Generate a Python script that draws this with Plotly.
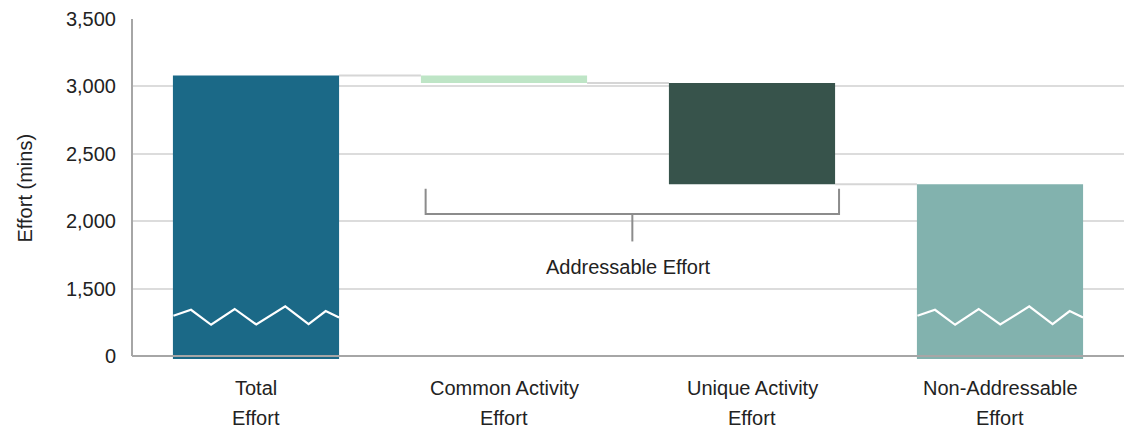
import plotly.graph_objects as go

# ---- data -------------------------------------------------------------
categories = ["Total Effort", "Common Activity Effort",
              "Unique Activity Effort", "Non-Addressable Effort"]
label_line1 = ["Total", "Common Activity", "Unique Activity", "Non-Addressable"]
label_line2 = ["Effort", "Effort", "Effort", "Effort"]

total_effort = 3080
common_activity = 55
unique_activity = 750
non_addressable = total_effort - common_activity - unique_activity  # 2275

tick_values = [0, 1500, 2000, 2500, 3000, 3500]
tick_labels = ["0", "1,500", "2,000", "2,500", "3,000", "3,500"]

# ---- broken-axis mapping ---------------------------------------------
# values >= 1500 are drawn at their true position; 0..1500 is squeezed
# into the bottom 500 units so the interesting range gets the room.
BREAK = 1500
AXIS_ZERO = 1000
AXIS_MIN = 978     # bars run a touch past the baseline
AXIS_MAX = 3500


def to_axis(v):
    if v >= BREAK:
        return v
    return AXIS_ZERO + v * (BREAK - AXIS_ZERO) / BREAK


COLORS = ["#1B6987", "#BEE5C6", "#37534B", "#82B2AE"]
BAR_WIDTH = 0.67
HALF = BAR_WIDTH / 2
FONT = "Liberation Sans, Arial, sans-serif"
TEXT = "#222222"
GRID = "#DCDCDC"
AXIS = "#A6A6A6"
BRACKET = "#8C8C8C"

x = [0, 1, 2, 3]
after_common = total_effort - common_activity
tops = [to_axis(total_effort), to_axis(total_effort),
        to_axis(after_common), to_axis(non_addressable)]
bottoms = [AXIS_MIN, to_axis(after_common),
           to_axis(non_addressable), AXIS_MIN]

fig = go.Figure()

fig.add_trace(go.Bar(
    x=x,
    y=[t - b for t, b in zip(tops, bottoms)],
    base=bottoms,
    width=BAR_WIDTH,
    marker=dict(color=COLORS, line=dict(width=0)),
    hovertext=categories,
    showlegend=False,
))

# waterfall connectors between consecutive bars
for i in range(3):
    level = tops[i + 1] if i == 0 else bottoms[i]
    fig.add_shape(type="line", x0=x[i] + HALF, x1=x[i + 1] - HALF,
                  y0=level, y1=level, line=dict(color="#D6D6D6", width=2),
                  layer="below")

# zig-zag break marks across the two full-height bars
zig_dx = [-0.333, -0.262, -0.181, -0.086, 0.001, 0.118, 0.212, 0.281, 0.335]
zig_y = [1299, 1343, 1232, 1349, 1234, 1368, 1237, 1334, 1286]
for xi in (0, 3):
    fig.add_trace(go.Scatter(
        x=[xi + d for d in zig_dx], y=zig_y, mode="lines",
        line=dict(color="white", width=2.2), hoverinfo="skip",
        showlegend=False, cliponaxis=False,
    ))

# bracket grouping the two addressable steps
bl, br = 0.684, 2.351
b_top, b_mid, b_stem = 2241, 2053, 1850
bx = (bl + br) / 2
fig.add_trace(go.Scatter(
    x=[bl, bl, br, br], y=[b_top, b_mid, b_mid, b_top], mode="lines",
    line=dict(color=BRACKET, width=2), hoverinfo="skip", showlegend=False,
))
fig.add_trace(go.Scatter(
    x=[bx, bx], y=[b_mid, b_stem], mode="lines",
    line=dict(color=BRACKET, width=2), hoverinfo="skip", showlegend=False,
))
fig.add_annotation(x=1.5, y=1660, xref="x", yref="y", text="Addressable Effort",
                   showarrow=False, font=dict(size=20, color=TEXT, family=FONT))

# axis lines
fig.add_shape(type="line", xref="paper", x0=0, x1=1, y0=AXIS_ZERO, y1=AXIS_ZERO,
              line=dict(color=AXIS, width=2), layer="above")
fig.add_shape(type="line", xref="paper", x0=0, x1=0, y0=AXIS_ZERO, y1=AXIS_MAX,
              line=dict(color=AXIS, width=2), layer="above")

# two-line category labels
for xi, l1, l2 in zip(x, label_line1, label_line2):
    fig.add_annotation(x=xi, y=-0.0844, xref="x", yref="paper", text=l1,
                       showarrow=False, yanchor="middle",
                       font=dict(size=20, color=TEXT, family=FONT))
    fig.add_annotation(x=xi, y=-0.1726, xref="x", yref="paper", text=l2,
                       showarrow=False, yanchor="middle",
                       font=dict(size=20, color=TEXT, family=FONT))

fig.add_annotation(x=-0.1079, y=(AXIS_ZERO + AXIS_MAX) / 2, xref="paper", yref="y",
                   text="Effort (mins)", textangle=-90, showarrow=False,
                   xanchor="center", yanchor="middle",
                   font=dict(size=20, color=TEXT, family=FONT))

fig.update_layout(
    width=1130, height=428,
    margin=dict(l=132, r=6, t=19, b=69),
    plot_bgcolor="white", paper_bgcolor="white",
    font=dict(family=FONT, size=20, color=TEXT),
    showlegend=False,
    xaxis=dict(range=[-0.5, 3.5], showticklabels=False, showgrid=False,
               zeroline=False, showline=False, fixedrange=True),
    yaxis=dict(range=[AXIS_MIN, AXIS_MAX],
               tickvals=[to_axis(v) for v in tick_values], ticktext=tick_labels,
               showgrid=True, gridcolor=GRID, gridwidth=2, zeroline=False,
               showline=False, ticks="", ticklabelstandoff=15,
               tickfont=dict(size=20, color=TEXT, family=FONT)),
)

fig.write_html("out.html")
